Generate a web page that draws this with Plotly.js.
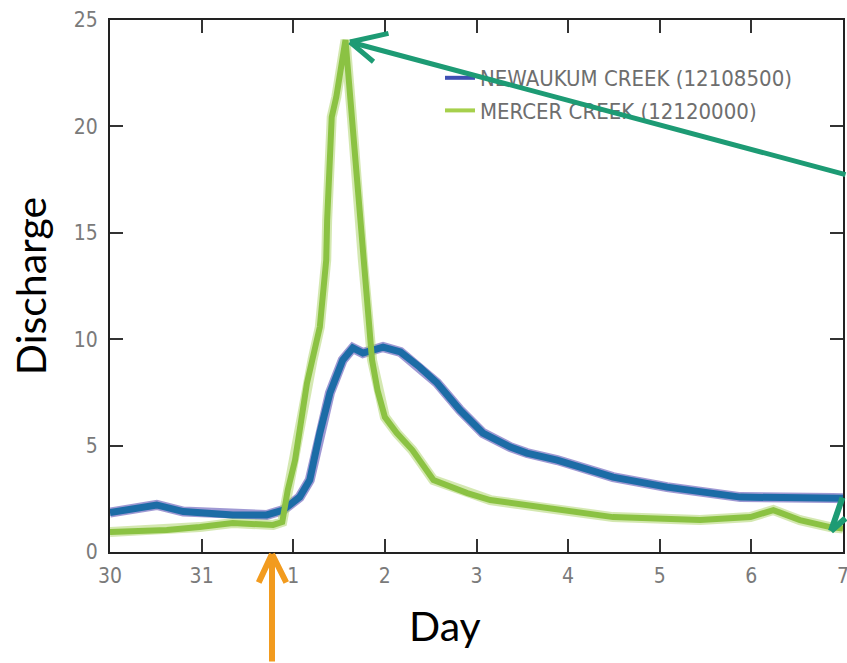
<!DOCTYPE html>
<html>
<head>
<meta charset="utf-8">
<script src="https://cdn.plot.ly/plotly-3.0.1.min.js"></script>
<style>html,body{margin:0;padding:0;background:#fff;}#chart{width:847px;height:663px;}</style>
</head>
<body>
<div id="chart"></div>
<script>
// ---- data ----
const dayTicks = [0, 1, 2, 3, 4, 5, 6, 7, 8];
const dayLabels = ['30', '31', '1', '2', '3', '4', '5', '6', '7'];
const dischargeTicks = [0, 5, 10, 15, 20, 25];

const newaukumName = 'NEWAUKUM CREEK (12108500)';
const newaukumDay = [0.0, 0.51, 0.80, 1.34, 1.71, 1.89, 2.07, 2.18, 2.29, 2.40, 2.54, 2.65, 2.76, 2.98, 3.17, 3.38, 3.57, 3.82, 4.07, 4.37, 4.55, 4.88, 5.49, 6.08, 6.88, 7.89, 8.0];
const newaukumQ   = [1.85, 2.21, 1.90, 1.74, 1.74, 1.97, 2.58, 3.38, 5.59, 7.47, 9.02, 9.59, 9.35, 9.63, 9.40, 8.69, 7.94, 6.67, 5.59, 4.93, 4.65, 4.32, 3.52, 3.05, 2.58, 2.54, 2.52];

const mercerName = 'MERCER CREEK (12120000)';
const mercerDay = [0.0, 0.62, 0.98, 1.34, 1.78, 1.88, 1.94, 2.00, 2.02, 2.15, 2.21, 2.29, 2.36, 2.37, 2.42, 2.47, 2.57, 2.64, 2.72, 2.76, 2.86, 2.92, 3.00, 3.13, 3.30, 3.53, 3.90, 4.15, 4.69, 5.49, 6.44, 6.99, 7.24, 7.53, 7.86, 8.0];
const mercerQ   = [0.94, 1.03, 1.17, 1.36, 1.27, 1.41, 2.91, 3.85, 4.32, 7.94, 9.02, 10.57, 13.72, 15.6, 20.44, 21.38, 24.06, 20.44, 15.6, 13.72, 9.02, 7.6, 6.34, 5.59, 4.79, 3.38, 2.77, 2.44, 2.11, 1.64, 1.50, 1.64, 1.97, 1.50, 1.17, 1.10];

// ---- style ----
const narrow = '"Liberation Sans Narrow", "DejaVu Sans Condensed", sans-serif';
const tickFont = {family: narrow, size: 21, color: '#7a7a7a'};
const titleFont = {family: 'Lato, "Open Sans", sans-serif', size: 41, color: '#000'};
const blue = '#1c6ca6', blueHalo = 'rgba(80,70,175,0.55)';
const green = '#8bc243', greenHalo = 'rgba(170,210,100,0.5)';
const teal = '#1d9b74', orange = '#f29b1e';

const traces = [
  {x: newaukumDay, y: newaukumQ, mode: 'lines', line: {color: blueHalo, width: 10}, showlegend: false, hoverinfo: 'skip'},
  {x: mercerDay, y: mercerQ, mode: 'lines', line: {color: greenHalo, width: 10}, showlegend: false, hoverinfo: 'skip'},
  {x: newaukumDay, y: newaukumQ, mode: 'lines', line: {color: blue, width: 7}, showlegend: false},
  {x: mercerDay, y: mercerQ, mode: 'lines', line: {color: green, width: 6}, showlegend: false},
  {x: [null], y: [null], mode: 'lines', name: newaukumName, line: {color: '#3f4fb3', width: 4}, legendgroup: 'a'},
  {x: [null], y: [null], mode: 'lines', name: mercerName, line: {color: '#a6d04c', width: 4}, legendgroup: 'b'}
];

// arrow helpers (pixel positions converted to paper coords)
const L = 110, R = 843, T = 20, B = 552;
const px = v => (v - L) / (R - L);
const py = v => (B - v) / (B - T);
function seg(tip, tail, color, w) {
  return {xref: 'paper', yref: 'paper', x: px(tip[0]), y: py(tip[1]), ax: tail[0] - tip[0], ay: tail[1] - tip[1],
          text: '', showarrow: true, arrowhead: 0, arrowwidth: w, arrowcolor: color, standoff: 0, startstandoff: 0};
}
const annotations = [
  seg([350, 42], [860, 175], teal, 5),
  seg([350, 42], [390, 33], teal, 5),
  seg([350, 42], [375, 63], teal, 5),
  seg([831, 531], [843, 496], teal, 6),
  seg([831, 531], [856, 517], teal, 6),
  seg([272, 554], [272, 670], orange, 6),
  seg([272, 554], [258, 584], orange, 6),
  seg([272, 554], [287, 584], orange, 6),
  {xref: 'paper', yref: 'paper', x: px(445), y: py(625), xanchor: 'center', yanchor: 'middle',
   text: 'Day', showarrow: false, font: titleFont}
];

const layout = {
  width: 847, height: 663,
  margin: {l: L, r: 847 - R, t: T, b: 663 - B},
  paper_bgcolor: '#fff', plot_bgcolor: '#fff',
  showlegend: true,
  legend: {x: px(440), y: py(57), xanchor: 'left', yanchor: 'top', bgcolor: 'rgba(0,0,0,0)',
           font: {family: narrow, size: 22, color: '#6e6e6e'},
           traceorder: 'grouped', tracegroupgap: 1},
  xaxis: {range: [0, 8], tickvals: dayTicks, ticktext: dayLabels, ticks: 'inside', ticklen: 13, tickwidth: 2,
          tickcolor: '#333', showline: true, linecolor: '#222', linewidth: 2, mirror: 'ticks', showgrid: false,
          zeroline: false, tickfont: tickFont, ticklabelstandoff: 4, ticklabeloverflow: 'allow'},
  yaxis: {range: [0, 25], tickvals: dischargeTicks, ticks: 'inside', ticklen: 13, tickwidth: 2,
          tickcolor: '#333', showline: true, linecolor: '#222', linewidth: 2, mirror: 'ticks', showgrid: false,
          zeroline: false, tickfont: tickFont, ticklabelstandoff: 6,
          title: {text: 'Discharge', font: titleFont, standoff: 14}},
  annotations: annotations
};

Plotly.newPlot('chart', traces, layout, {displayModeBar: false, staticPlot: true});
</script>
</body>
</html>
